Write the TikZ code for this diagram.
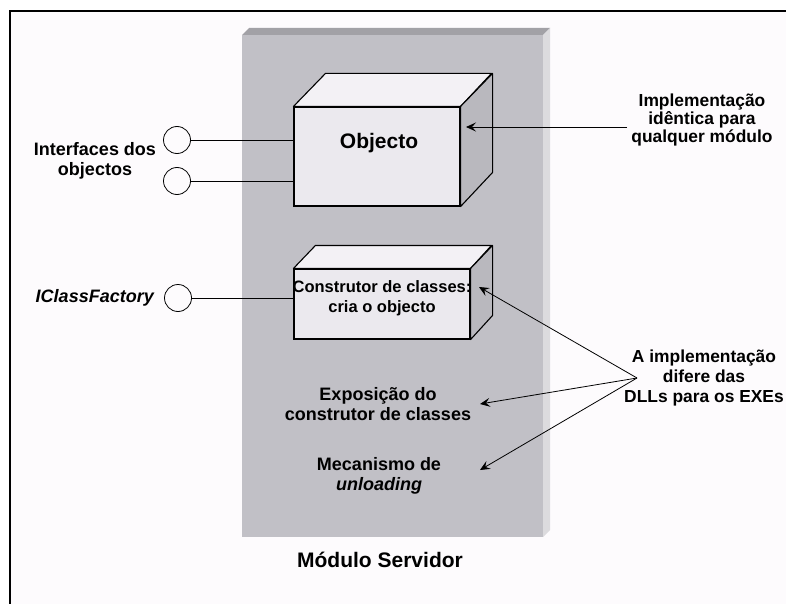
\documentclass[tikz,border=0pt]{standalone}
\usepackage{fontspec}
\setmainfont{Liberation Sans}
\usetikzlibrary{arrows.meta}
\definecolor{pagebg}{HTML}{FDFBFD}
\definecolor{slab}{HTML}{C1C0C6}
\definecolor{slabtop}{HTML}{A2A1A6}
\definecolor{slabside}{HTML}{DCDBDE}
\definecolor{facefront}{HTML}{EBE9EE}
\definecolor{facetop}{HTML}{F3F1F5}
\definecolor{faceside}{HTML}{B9B8BE}
\tikzset{
  txt/.style={font=\fontsize{18}{20}\selectfont\bfseries, align=center, inner sep=0pt},
  bigtxt/.style={font=\fontsize{21}{24}\selectfont\bfseries, inner sep=0pt},
  front/.style={draw=black, line width=1.1pt, fill=facefront, inner sep=0pt},
  topface/.style={draw=black, line width=1.1pt, fill=facetop, line join=round},
  sideface/.style={draw=black, line width=1.1pt, fill=faceside, line join=round},
  iface/.style={circle, draw=black, line width=0.8pt, fill=pagebg, minimum size=27pt, inner sep=0pt},
  wire/.style={draw=black, line width=0.9pt},
  pointer/.style={draw=black, line width=0.8pt, -{Stealth[length=10pt,width=9pt,inset=4pt]}}
}
\begin{document}
\begin{tikzpicture}[x=1pt,y=-1pt]
\useasboundingbox (0,0) rectangle (786,604);
\clip (0,0) rectangle (786,604);
\fill[white] (0,0) rectangle (786,604);
% outer frame
\draw[line width=2pt, fill=pagebg] (10,11) rectangle (820,640);
% module slab
\fill[slab] (242,35) rectangle (543,537);
\fill[slabtop] (242,35) -- (249,28) -- (550,28) -- (543,35) -- cycle;
\fill[slabside] (543,35) -- (550,28) -- (550,530) -- (543,537) -- cycle;

% Objecto box
\node[front, minimum width=166pt, minimum height=99pt] (obj) at (377,156.5) {};
\draw[topface] (obj.north west) -- ++(32,-33) -- ++(166,0) -- (obj.north east) -- cycle;
\draw[sideface] (obj.north east) -- ++(32,-33) -- ++(0,99) -- (obj.south east) -- cycle;
\node[bigtxt] (objtxt) at (379,143) {Objecto};

% Construtor box
\node[front, minimum width=176pt, minimum height=70pt] (cls) at (382,304) {};
\draw[topface] (cls.north west) -- ++(22,-23) -- ++(176,0) -- (cls.north east) -- cycle;
\draw[sideface] (cls.north east) -- ++(22,-23) -- ++(0,70) -- (cls.south east) -- cycle;
\node[txt, font=\fontsize{16.5}{20}\selectfont\bfseries] (clstxt) at (382,298) {Construtor de classes:\\cria o objecto};

% interfaces
\node[iface] (i1) at (177,140) {};
\node[iface] (i2) at (177,181) {};
\node[iface] (i3) at (178,298) {};
\draw[wire] (i1.east) -- (i1.east -| obj.west);
\draw[wire] (i2.east) -- (i2.east -| obj.west);
\draw[wire] (i3.east) -- (i3.east -| cls.west);
\node[txt] (ifacetxt) at (95,161) {Interfaces dos\\objectos};
\node[txt, anchor=east, font=\fontsize{18}{20}\selectfont\bfseries\itshape] (icf) at (154,298) {IClassFactory};

% inner texts
\node[txt] (expo) at (378,404) {Exposição do\\construtor de classes};
\node[txt] (mec) at (379,476) {Mecanismo de\\\textit{unloading}};
\node[bigtxt] (mod) at (380,560) {Módulo Servidor};

% right texts
\node[txt, font=\fontsize{17.4}{18}\selectfont\bfseries] (impl) at (702,120) {Implementação\\idêntica para\\qualquer módulo};
\node[txt, font=\fontsize{17.4}{20}\selectfont\bfseries] (dll) at (704,378) {A implementação\\difere das\\DLLs para os EXEs};

% arrows
\coordinate (a1s) at (627,127);
\coordinate (a1e) at (466,127);
\draw[pointer] (a1s) -- (a1e);
\coordinate (src) at (637,378);
\coordinate (t1) at (479,287);
\coordinate (t2) at (480,404);
\coordinate (t3) at (480,470);
\draw[pointer] (src) -- (t1);
\draw[pointer] (src) -- (t2);
\draw[pointer] (src) -- (t3);
\end{tikzpicture}
\end{document}
